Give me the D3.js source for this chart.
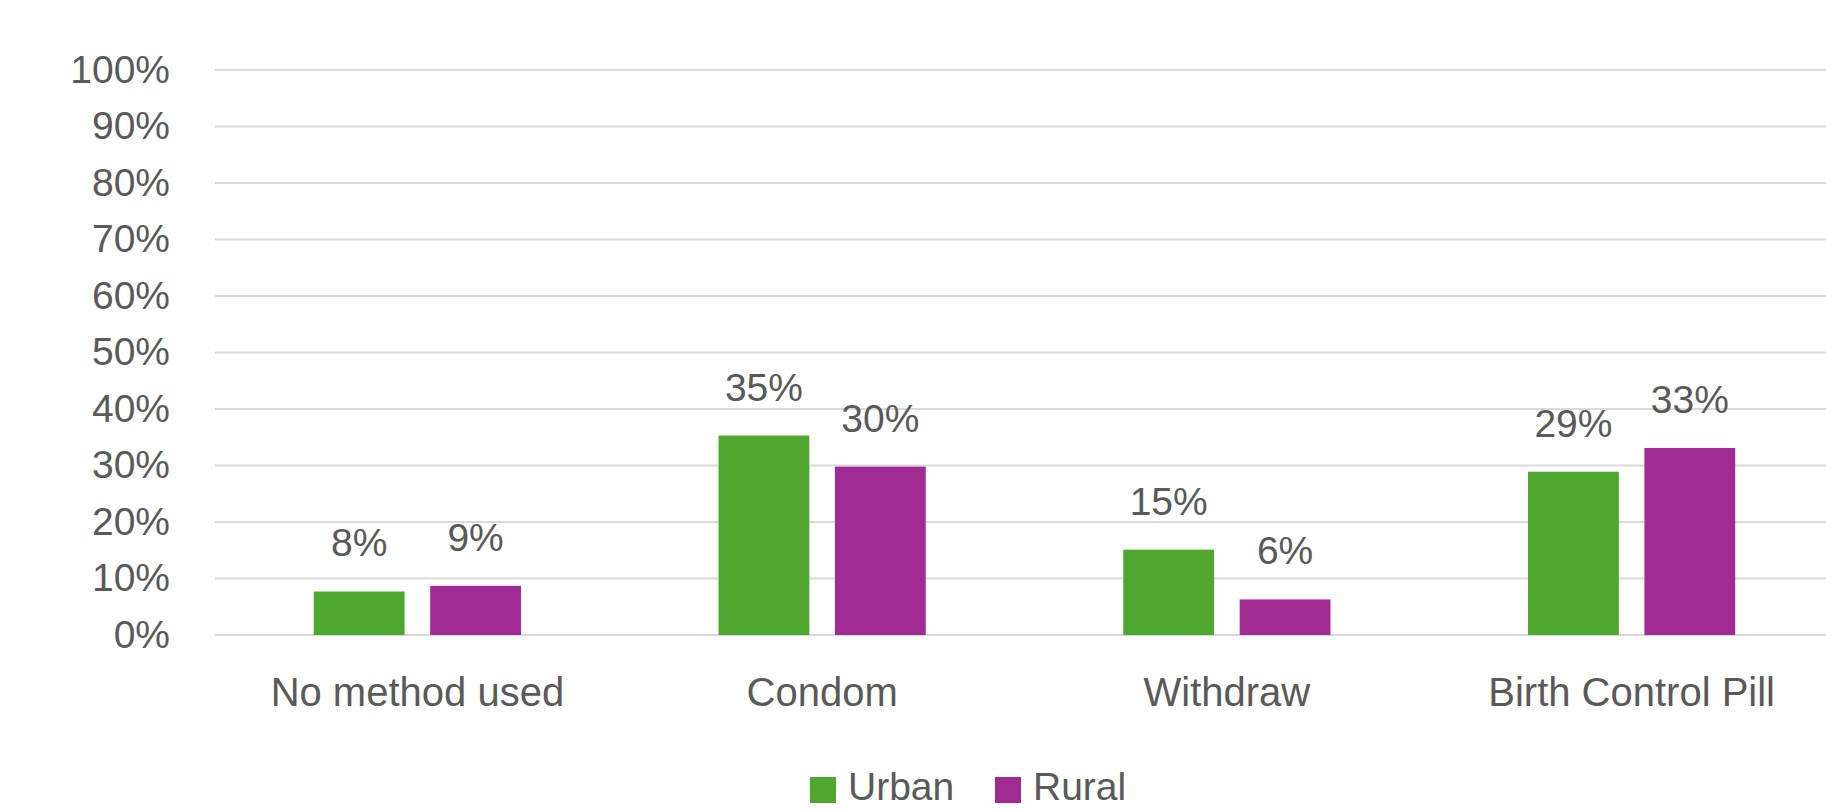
<!DOCTYPE html>
<html>
<head>
<meta charset="utf-8">
<script src="https://cdn.jsdelivr.net/npm/d3@7"></script>
<style>
  html, body { margin: 0; padding: 0; background: #fff; overflow: hidden; }
  text { font-family: "Liberation Sans", Arial, sans-serif; fill: #595959; }
</style>
</head>
<body>
<svg id="chart" width="1826" height="809"></svg>
<script>
// data
var categories = ["No method used", "Condom", "Withdraw", "Birth Control Pill"];
var seriesNames = ["Urban", "Rural"];
var urban = [0.077, 0.353, 0.151, 0.289];
var rural = [0.087, 0.298, 0.063, 0.331];
var yTicks = [0, 0.1, 0.2, 0.3, 0.4, 0.5, 0.6, 0.7, 0.8, 0.9, 1.0];
var colors = ["#4EA72E", "#A02B93"];

function draw_chart(){
    var svg = d3.select("#chart");
    svg.selectAll("*").remove();

    var plotLeft = 215, plotRight = 1834,
        plotTop = 70, plotBottom = 635;

    var x = d3.scaleBand()
        .domain(categories)
        .range([plotLeft, plotRight])
        .padding(0);

    var groupHalf = 103.6;
    var x1 = d3.scaleBand()
        .domain(seriesNames)
        .range([x.bandwidth()/2 - groupHalf, x.bandwidth()/2 + groupHalf])
        .paddingInner(0.22)
        .paddingOuter(0);

    var y = d3.scaleLinear()
        .domain([0, 1])
        .range([plotBottom, plotTop]);

    var color = d3.scaleOrdinal().domain(seriesNames).range(colors);

    // gridlines
    svg.append("g")
      .selectAll("line")
      .data(yTicks)
      .join("line")
        .attr("x1", plotLeft)
        .attr("x2", 1826)
        .attr("y1", function(d){ return y(d); })
        .attr("y2", function(d){ return y(d); })
        .attr("stroke", "#D9D9D9")
        .attr("stroke-width", 2.2);

    // y axis labels
    var yAxis = svg.append("g")
        .attr("transform", "translate(" + (plotLeft - 16) + ",0)")
        .call(d3.axisLeft(y).tickValues(yTicks).tickFormat(d3.format(".0%")).tickSize(0).tickPadding(29));
    yAxis.select(".domain").remove();
    yAxis.selectAll("text")
        .style("font-size", "39px")
        .attr("fill", "#595959");

    // rows of values per category
    var rows = categories.map(function(c, i){
        return {cat: c, values: [
            {name: "Urban", value: urban[i]},
            {name: "Rural", value: rural[i]}
        ]};
    });

    var groups = svg.append("g")
      .selectAll("g")
      .data(rows)
      .join("g")
        .attr("transform", function(d){ return "translate(" + x(d.cat) + ",0)"; });

    groups.selectAll("rect")
      .data(function(d){ return d.values; })
      .join("rect")
        .attr("x", function(d){ return x1(d.name); })
        .attr("width", x1.bandwidth())
        .attr("y", function(d){ return y(d.value); })
        .attr("height", function(d){ return y(0) - y(d.value); })
        .attr("fill", function(d){ return color(d.name); });

    // data labels
    groups.selectAll("text.val")
      .data(function(d){ return d.values; })
      .join("text")
        .attr("class", "val")
        .attr("x", function(d){ return x1(d.name) + x1.bandwidth()/2; })
        .attr("y", function(d){ return y(d.value) - 35; })
        .attr("text-anchor", "middle")
        .style("font-size", "39px")
        .text(function(d){ return d3.format(".0%")(d.value); });

    // category axis
    var xAxis = svg.append("g")
        .attr("transform", "translate(0," + plotBottom + ")")
        .call(d3.axisBottom(x).tickSize(0).tickPadding(43));
    xAxis.select(".domain").remove();
    xAxis.selectAll("text")
        .style("font-size", "40px")
        .attr("fill", "#595959");

    // legend (sits at the bottom edge, kept just inside)
    var legend = svg.append("g").attr("transform", "translate(810,777)");
    var legendX = [0, 185];
    var items = legend.selectAll("g")
      .data(seriesNames)
      .join("g")
        .attr("transform", function(d, i){ return "translate(" + legendX[i] + ",0)"; });
    items.append("rect")
        .attr("width", 26)
        .attr("height", 26)
        .attr("fill", function(d){ return color(d); });
    items.append("text")
        .attr("x", 38)
        .attr("y", 23)
        .style("font-size", "39px")
        .text(function(d){ return d; });
}

draw_chart();
</script>
</body>
</html>
